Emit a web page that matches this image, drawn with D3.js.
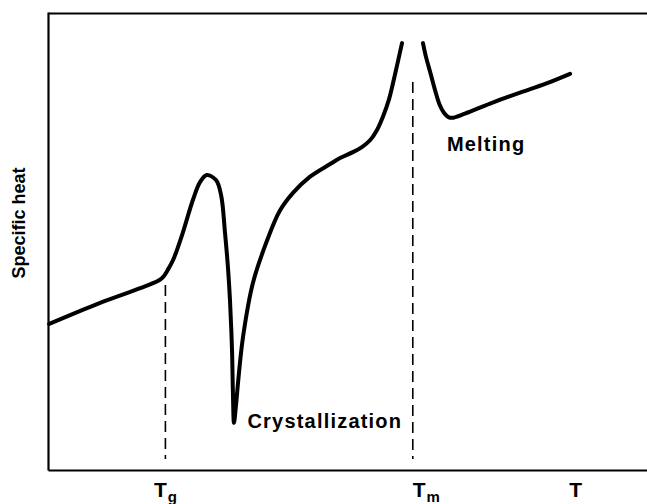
<!DOCTYPE html>
<html>
<head>
<meta charset="utf-8">
<script src="https://cdn.jsdelivr.net/npm/d3@7/dist/d3.min.js"></script>
<style>
  html, body { margin: 0; padding: 0; background: #fff; }
  svg { display: block; }
  text { font-family: "Liberation Sans", Arial, Helvetica, sans-serif; font-weight: bold; fill: #000; }
</style>
</head>
<body>
<svg id="chart" width="647" height="504"></svg>
<script>
// Heating trace of a semicrystalline polymer (arbitrary units).
// Segment below melting: glass transition, cold crystallization, onset of melting.
const lowTemps = [0.2, 8.7, 15.4, 18.4, 19.2, 20.0, 20.9, 22.5, 24.2, 25.4, 26.5,
  28.05, 28.9, 29.55, 30.05, 30.38, 30.72, 30.88, 31.05, 31.39, 31.72, 32.55,
  34.2, 36.6, 38.7, 40.9, 43.7, 47.1, 48.75, 50.9, 52.4, 53.8, 54.9, 55.9, 56.9, 57.9, 59.1];
const lowHeat = [31.9, 36.5, 39.7, 41.3, 42.1, 43.7, 45.9, 51.8, 59.0, 62.9, 64.4,
  63.3, 60.0, 51.8, 44.1, 37.1, 26.2, 16.4, 10.3, 14.2, 19.0, 29.0,
  40.8, 50.2, 56.6, 60.5, 64.0, 66.8, 68.1, 69.4, 70.5, 72.05, 74.2, 77.1, 80.8, 86.2, 93.2];

// Segment above melting: return to the melt baseline.
const highTemps = [62.6, 63.1, 63.8, 64.6, 65.4, 66.1, 66.8, 67.45, 69.6, 73.8, 78.8, 83.0, 87.15];
const highHeat = [93.2, 90.2, 86.9, 83.0, 79.7, 78.0, 77.1, 76.9, 77.8, 80.0, 82.4, 84.3, 86.5];

// Guide lines at the glass transition and melting temperatures.
const guideTemps = [19.6, 60.9];
const guideTops = [40.4, 84.7];
const guideBottom = 2.4;

// Axis labels along the temperature axis.
const tickTemps = [19.6, 60.9, 88.1];
const tickMain = ["T", "T", "T"];
const tickSub = ["g", "m", ""];
const tickAnchor = ["middle", "start", "middle"];

// Annotations.
const notes = [
  { text: "Crystallization", temp: 33.3, heat: 9.2 },
  { text: "Melting", temp: 66.6, heat: 69.7 }
];
const yTitle = "Specific heat";

const svg = d3.select("#chart");
const x = d3.scaleLinear().domain([0, 100]).range([48, 647]);
const y = d3.scaleLinear().domain([0, 100]).range([470, 12]);

// Frame: left, bottom and top rules, no ticks.
const frame = svg.append("g");
frame.append("g").attr("transform", `translate(${x(0)},0)`)
  .call(d3.axisLeft(y).tickValues([]).tickSizeOuter(0));
frame.append("g").attr("transform", `translate(0,${y(0)})`)
  .call(d3.axisBottom(x).tickValues([]).tickSizeOuter(0));
frame.append("g").attr("transform", `translate(0,${y(100) + 1})`)
  .call(d3.axisTop(x).tickValues([]).tickSizeOuter(0));
frame.selectAll(".domain").attr("stroke", "#000").attr("stroke-width", 2.2);

// Dashed guides.
svg.append("g").selectAll("line")
  .data(guideTemps)
  .join("line")
  .attr("x1", d => x(d)).attr("x2", d => x(d))
  .attr("y1", (d, i) => y(guideTops[i]))
  .attr("y2", y(guideBottom))
  .attr("stroke", "#000")
  .attr("stroke-width", 1.6)
  .attr("stroke-dasharray", "11,6");

// Curve.
const line = d3.line()
  .x(d => x(d[0]))
  .y(d => y(d[1]))
  .curve(d3.curveCatmullRom.alpha(0.5));
const segments = [
  d3.zip(lowTemps, lowHeat),
  d3.zip(highTemps, highHeat)
];
svg.append("g").selectAll("path")
  .data(segments)
  .join("path")
  .attr("d", line)
  .attr("fill", "none")
  .attr("stroke", "#000")
  .attr("stroke-width", 4)
  .attr("stroke-linecap", "round")
  .attr("stroke-linejoin", "round");

// Temperature labels with subscripts.
const ticks = svg.append("g").selectAll("text")
  .data(tickTemps)
  .join("text")
  .attr("x", d => x(d))
  .attr("y", 497)
  .attr("text-anchor", (d, i) => tickAnchor[i])
  .style("font-size", "21px");
ticks.append("tspan").text((d, i) => tickMain[i]);
ticks.append("tspan")
  .attr("dx", 1)
  .attr("dy", 5)
  .style("font-size", "15px")
  .text((d, i) => tickSub[i]);

// Annotations.
svg.append("g").selectAll("text")
  .data(notes)
  .join("text")
  .attr("x", d => x(d.temp))
  .attr("y", d => y(d.heat))
  .style("font-size", "20px")
  .style("letter-spacing", "1.2px")
  .text(d => d.text);

// Vertical axis title.
svg.append("text")
  .attr("transform", `translate(25,${(y(0) + y(100)) / 2 - 18}) rotate(-90)`)
  .attr("text-anchor", "middle")
  .style("font-size", "18px")
  .text(yTitle);
</script>
</body>
</html>
